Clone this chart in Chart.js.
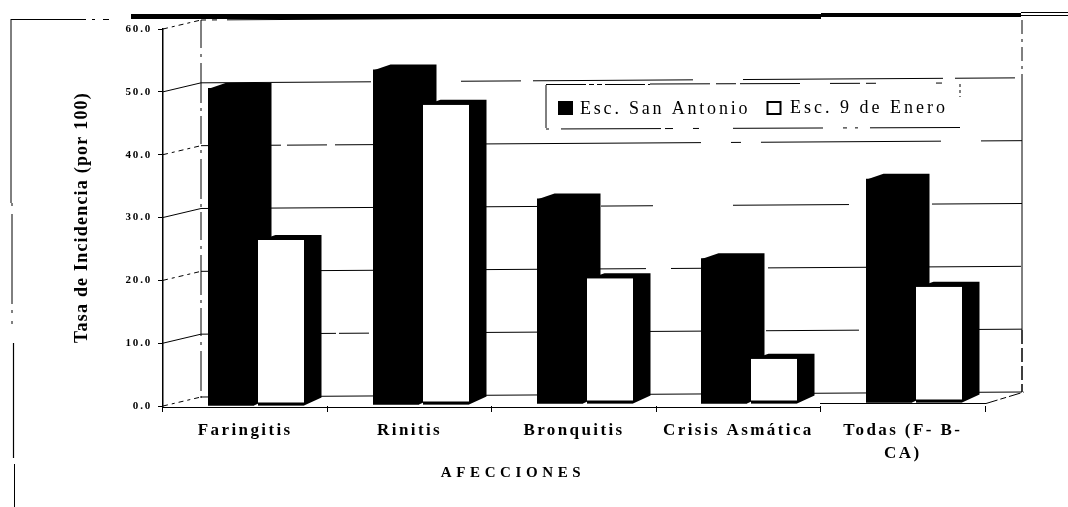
<!DOCTYPE html>
<html><head><meta charset="utf-8">
<script src="https://cdn.jsdelivr.net/npm/chart.js@4"></script>
<style>html,body{margin:0;padding:0;background:#fff}canvas{display:block}</style>
</head><body><canvas id="c" width="1068" height="507"></canvas>
<script>
const categories = ['Faringitis','Rinitis','Bronquitis','Crisis Asmática',['Todas (F- B-','CA)']];
const seriesNames = ['Esc. San Antonio','Esc. 9 de Enero'];
const sanAntonio = [50.6,53.4,32.7,23.2,35.7];
const nueveEnero = [26.4,47.8,20.0,7.2,18.5];
const yMax = 60, yStep = 10;
const gridDashes = {
  0:[],
  10:[135,3,30,10,260,10,60,57,93,10,250],
  20:[445,25,30,67,253],
  30:[345,55,52,80,116,83,91],
  40:[80,6,40,8,60,6,300,30,10,20,180,40,200],
  50:[170,90,60,12,160,50,200,12,60,8,260],
  60:[5,6,5,10,420,400]
};
const BAR_DX = 11, DEPTH_X = 17.5, DEPTH_TOP = 5, DEPTH_BOTTOM = 8;
const BACK_X = 38, BACK_Y = 9, TILT = 5;

function seg(ctx,x1,y1,x2,y2,w,dash){
  ctx.save();ctx.beginPath();ctx.lineWidth=w||1;ctx.strokeStyle='#000';
  ctx.setLineDash(dash||[]);ctx.moveTo(x1,y1);ctx.lineTo(x2,y2);ctx.stroke();ctx.restore();
}
const depthPlugin = {
  id:'depth',
  afterDatasetsUpdate(chart){
    chart.data.datasets.forEach((d,i)=>{
      chart.getDatasetMeta(i).data.forEach(el=>{
        el.x = Math.round(el.x + BAR_DX);
        el.width = Math.round(el.width);
        const lift = Math.round((el.x-231)/658*3);
        el.y -= lift; el.base -= lift;
      });
    });
  },
  beforeDraw(chart){
    const ctx=chart.ctx;
    const sx=chart.scales.x, sy=chart.scales.y;
    if(!sx._wrapped){
      sx._wrapped=true;
      const dl=sx.drawLabels, dt=sx.drawTitle;
      sx.drawLabels=function(a){ctx.save();ctx.letterSpacing='2.4px';dl.call(this,a);ctx.restore();};
      sx.drawTitle=function(){ctx.save();ctx.letterSpacing='4.6px';ctx.translate(-61,0);dt.call(this);ctx.restore();};
      const yl=sy.drawLabels, yt=sy.drawTitle;
      sy.drawLabels=function(a){ctx.save();ctx.letterSpacing='1.8px';yl.call(this,a);ctx.restore();};
      sy.drawTitle=function(){ctx.save();ctx.letterSpacing='1.2px';yt.call(this);ctx.restore();};
    }
    ctx.save();ctx.fillStyle='#fff';ctx.fillRect(0,0,chart.width,chart.height);ctx.restore();
    // page frame
    seg(ctx,11,19.5,80,19.5,1);seg(ctx,80,19.5,112,19.5,1,[6,6,3,8]);
    seg(ctx,11,19,11,203,1);seg(ctx,12,203,12,330,1,[3,8,90,6,3,8]);
    seg(ctx,13.5,343,13.5,458,1.2);seg(ctx,14.5,464,14.5,507,1);
    ctx.save();ctx.fillStyle='#000';
    ctx.fillRect(131,14,690,5);ctx.fillRect(821,13,200,4);ctx.restore();
    seg(ctx,1021,12.5,1068,12.5,1);seg(ctx,1021,15.5,1068,15.5,1);
  },
  beforeDatasetsDraw(chart){
    const ctx=chart.ctx, sy=chart.scales.y;
    const L=chart.chartArea.left, R=chart.chartArea.right;
    const bl=L+BACK_X, br=R+BACK_X-1;
    // back wall edges
    seg(ctx,bl,20,bl,398,1,[28,6,3,6,40,5,3,5]);
    seg(ctx,br,20,br,76,1,[14,5,3,5]);seg(ctx,br,76,br,330,1);seg(ctx,br,330,br,392,1.5,[14,4]);
    // gridlines: floor-to-wall links and wall lines, from the value scale
    for(let v=0;v<=yMax;v+=yStep){
      const y=sy.getPixelForValue(v);
      seg(ctx,L,y,bl,y-BACK_Y,1,v%20===0?[5,4,3,4]:[]);
      seg(ctx,bl,y-BACK_Y,br,y-BACK_Y-TILT,1,gridDashes[v]);
    }
    // depth faces of each bar (extended behind the front face)
    ctx.save();ctx.fillStyle='#000';
    chart.data.datasets.forEach((d,i)=>{
      chart.getDatasetMeta(i).data.forEach(el=>{
        const l=el.x-el.width/2, r=el.x+el.width/2;
        ctx.beginPath();
        ctx.moveTo(l,el.y+1);ctx.lineTo(l+DEPTH_X,el.y-DEPTH_TOP);
        ctx.lineTo(r+DEPTH_X,el.y-DEPTH_TOP);ctx.lineTo(r+DEPTH_X,el.base-DEPTH_BOTTOM);
        ctx.lineTo(r,el.base);ctx.lineTo(l,el.base);ctx.closePath();ctx.fill();
      });
    });
    ctx.restore();
  },
  afterDatasetsDraw(chart){
    const ctx=chart.ctx, R=chart.chartArea.right;
    // floor front edge
    seg(ctx,163,407.5,820,407.5,1.2);
    seg(ctx,820,403.5,R+1,403.5,1);
    seg(ctx,R+1,403.5,R+39,392,1,[12,3,6,3]);
    // legend
    ctx.save();
    seg(ctx,546,85,546,128,1);
    seg(ctx,546,84.5,650,84.5,1,[40,3,5,3,5,3]);seg(ctx,650,84,960,83,1,[60,6,20,4,60,30,30,6,10]);
    seg(ctx,960,84,960,97,1,[3,3]);
    seg(ctx,546,129,960,127.5,1,[3,12,100,4,8,20,6,34,90,20,4,8]);
    ctx.fillStyle='#000';ctx.fillRect(558,101,15,14);
    ctx.lineWidth=2;ctx.strokeStyle='#000';ctx.strokeRect(767.5,102,13,12);
    ctx.font='18px "Liberation Serif"';ctx.textBaseline='alphabetic';
    ctx.letterSpacing='2.8px';ctx.fillText(seriesNames[0],580,114);
    ctx.letterSpacing='3px';ctx.fillText(seriesNames[1],790,113);
    ctx.restore();
  }
};
new Chart(document.getElementById('c'),{
  type:'bar',
  data:{labels:categories,datasets:[
    {label:seriesNames[0],data:sanAntonio,backgroundColor:'#000',borderWidth:0},
    {label:seriesNames[1],data:nueveEnero,backgroundColor:'#fff',borderColor:'#000',borderSkipped:false,
     borderWidth:{top:0,right:0,bottom:3,left:0}}
  ]},
  options:{
    responsive:false,animation:false,
    categoryPercentage:0.608,barPercentage:0.92,
    layout:{padding:{left:0,right:83,top:29,bottom:0}},
    plugins:{legend:{display:false},tooltip:{enabled:false},title:{display:false}},
    scales:{
      x:{
        border:{display:false},
        grid:{drawOnChartArea:false,drawTicks:true,tickLength:6,color:'#000',offset:true},
        ticks:{color:'#000',font:{family:'"Liberation Serif"',size:17,weight:'bold',lineHeight:1.3},padding:8,maxRotation:0,autoSkip:false},
        title:{display:true,text:'AFECCIONES',color:'#000',font:{family:'"Liberation Serif"',size:15,weight:'bold'},padding:{top:0,bottom:25}},
        afterFit(s){s.height=101;}
      },
      y:{
        min:0,max:yMax,
        border:{display:true,color:'#000',width:1.5},
        grid:{drawOnChartArea:false,drawTicks:true,tickLength:5,color:'#000'},
        ticks:{stepSize:yStep,color:'#000',padding:6,font:{family:'"Liberation Serif"',size:11,weight:'bold'},
               callback:v=>v.toFixed(1)},
        title:{display:true,text:'Tasa de Incidencia (por 100)',color:'#000',font:{family:'"Liberation Serif"',size:18,weight:'bold'},padding:{top:72,bottom:0}},
        afterFit(s){s.width=163;}
      }
    }
  },
  plugins:[depthPlugin]
});
</script></body></html>
